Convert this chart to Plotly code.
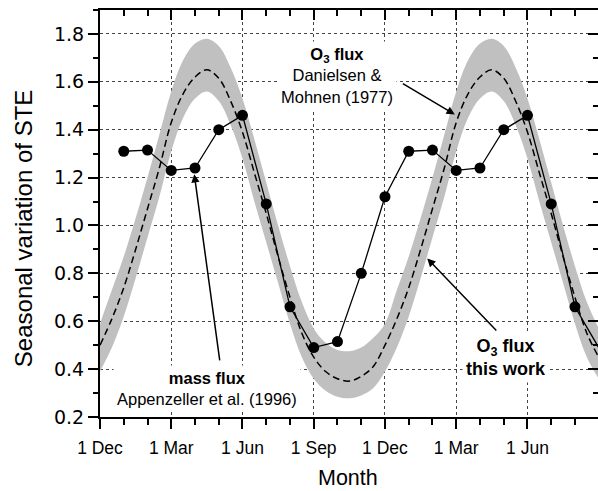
import plotly.graph_objects as go

# ---- data ----
# months since 1 Dec (0 = 1 Dec, 3 = 1 Mar, ...), half-month samples of the O3-flux fit
fit_months = [i * 0.5 for i in range(43)]
fit_mean = [0.50, 0.61, 0.74, 0.90, 1.07, 1.24, 1.43, 1.55, 1.62, 1.65, 1.615, 1.52,
            1.39, 1.22, 1.05, 0.87, 0.70, 0.55, 0.45, 0.39, 0.36, 0.35, 0.37, 0.41,
            0.50, 0.61, 0.74, 0.90, 1.07, 1.24, 1.43, 1.55, 1.62, 1.65, 1.615, 1.52,
            1.39, 1.22, 1.05, 0.87, 0.70, 0.55, 0.45]
fit_upper = [0.59, 0.73, 0.87, 1.03, 1.20, 1.38, 1.56, 1.69, 1.76, 1.78, 1.75, 1.66,
             1.53, 1.36, 1.18, 1.00, 0.83, 0.68, 0.57, 0.51, 0.48, 0.475, 0.49, 0.53,
             0.59, 0.73, 0.87, 1.03, 1.20, 1.38, 1.56, 1.69, 1.76, 1.78, 1.75, 1.66,
             1.53, 1.36, 1.18, 1.00, 0.83, 0.68, 0.57]
fit_lower = [0.39, 0.49, 0.62, 0.78, 0.95, 1.12, 1.31, 1.45, 1.53, 1.56, 1.52, 1.42,
             1.28, 1.10, 0.93, 0.76, 0.59, 0.45, 0.36, 0.31, 0.285, 0.278, 0.29, 0.32,
             0.39, 0.49, 0.62, 0.78, 0.95, 1.12, 1.31, 1.45, 1.53, 1.56, 1.52, 1.42,
             1.28, 1.10, 0.93, 0.76, 0.59, 0.45, 0.36]

mass_months = [1, 2, 3, 4, 5, 6, 7, 8, 9, 10, 11, 12,
               13, 14, 15, 16, 17, 18, 19, 20, 21]
mass_flux = [1.31, 1.315, 1.23, 1.24, 1.40, 1.46, 1.09, 0.66, 0.49, 0.515, 0.80, 1.12,
             1.31, 1.315, 1.23, 1.24, 1.40, 1.46, 1.09, 0.66, 0.49]

tick_months = [0, 3, 6, 9, 12, 15, 18]
tick_labels = ["1 Dec", "1 Mar", "1 Jun", "1 Sep", "1 Dec", "1 Mar", "1 Jun"]

ARIAL = "Arial, Liberation Sans, sans-serif"

fig = go.Figure()
fig.add_trace(go.Scatter(x=fit_months, y=fit_lower, mode="lines",
                         line=dict(width=0, shape="spline", color="#c0c0c0"),
                         hoverinfo="skip", showlegend=False))
fig.add_trace(go.Scatter(x=fit_months, y=fit_upper, mode="lines", fill="tonexty",
                         fillcolor="#c0c0c0",
                         line=dict(width=0, shape="spline", color="#c0c0c0"),
                         hoverinfo="skip", showlegend=False))
fig.add_trace(go.Scatter(x=fit_months, y=fit_mean, mode="lines",
                         line=dict(width=1.5, shape="spline", color="black", dash="7px,4px"),
                         showlegend=False))
fig.add_trace(go.Scatter(x=mass_months, y=mass_flux, mode="lines+markers",
                         line=dict(width=1.3, color="black"),
                         marker=dict(size=11, color="black"),
                         cliponaxis=False, showlegend=False))

xr = [0, 20.97]
yr = [0.2, 1.9]

fig.update_layout(
    width=598, height=491,
    margin=dict(l=100, r=0, t=10, b=74),
    plot_bgcolor="white", paper_bgcolor="white",
    font=dict(family=ARIAL, color="black"),
    xaxis=dict(range=xr, tickvals=tick_months, ticktext=tick_labels,
               ticks="outside", ticklen=10, tickwidth=2, tickcolor="black",
               minor=dict(dtick=1, tick0=0, ticks="outside", ticklen=6, tickwidth=1.5,
                          tickcolor="black", showgrid=False),
               showline=True, linewidth=2, linecolor="black",
               showgrid=True, gridcolor="#444", griddash="dot", gridwidth=1,
               zeroline=False, ticklabelstandoff=4,
               tickfont=dict(family=ARIAL, size=17.5)),
    yaxis=dict(range=yr, tick0=0.2, dtick=0.2, tickformat=".1f",
               ticks="outside", ticklen=10, tickwidth=2, tickcolor="black",
               minor=dict(dtick=0.1, tick0=0.2, ticks="outside", ticklen=5, tickwidth=1.5,
                          tickcolor="black", showgrid=False),
               showline=True, linewidth=2, linecolor="black",
               showgrid=True, gridcolor="#444", griddash="dot", gridwidth=1,
               zeroline=False,
               tickfont=dict(family="DejaVu Sans", size=19)),
    xaxis2=dict(range=xr, overlaying="x", side="top", tickvals=tick_months,
                showticklabels=False, ticks="inside", ticklen=10, tickwidth=2,
                tickcolor="black",
                minor=dict(dtick=1, tick0=0, ticks="inside", ticklen=6, tickwidth=1.5,
                           tickcolor="black", showgrid=False),
                showline=True, linewidth=2, linecolor="black", showgrid=False,
                zeroline=False),
    yaxis2=dict(range=yr, overlaying="y", side="right", tick0=0.2, dtick=0.2,
                showticklabels=False, ticks="inside", ticklen=10, tickwidth=2,
                tickcolor="black",
                minor=dict(dtick=0.1, tick0=0.2, ticks="inside", ticklen=5, tickwidth=1.5,
                           tickcolor="black", showgrid=False),
                showline=False, showgrid=False, zeroline=False),
)

# invisible helper so the mirrored top/right axes are drawn
fig.add_trace(go.Scatter(x=[None], y=[None], xaxis="x2", yaxis="y2",
                         showlegend=False, hoverinfo="skip"))

ann = []
# axis titles
ann.append(dict(text="Seasonal variation of STE", xref="paper", yref="paper",
                x=-0.1546, y=0.464, textangle=-90, showarrow=False,
                xanchor="center", yanchor="middle", font=dict(family=ARIAL, size=24)))
ann.append(dict(text="Month", xref="paper", yref="paper", x=0.498, y=-0.150,
                showarrow=False, xanchor="center", yanchor="middle",
                font=dict(family=ARIAL, size=21.5)))
# text blocks
ann.append(dict(text="<b>O<sub>3</sub> flux</b><br>Danielsen &amp;<br>Mohnen (1977)",
                x=10.0, y=1.625, xref="x", yref="y", showarrow=False,
                bgcolor="white", borderpad=3, font=dict(family=ARIAL, size=16.5)))
ann.append(dict(text="<b>mass flux</b><br>Appenzeller et al. (1996)",
                x=4.5, y=0.319, xref="x", yref="y", showarrow=False,
                bgcolor="white", borderpad=3, font=dict(family=ARIAL, size=16.5)))
ann.append(dict(text="<b>O<sub>3</sub> flux<br>this work</b>",
                x=17.1, y=0.447, xref="x", yref="y", showarrow=False,
                bgcolor="white", borderpad=3, font=dict(family=ARIAL, size=18)))
# arrows
for tip, tail in [((14.94, 1.464), (12.69, 1.596)),
                  ((3.97, 1.214), (5.05, 0.43)),
                  ((13.78, 0.862), (16.75, 0.555))]:
    ann.append(dict(text="", x=tip[0], y=tip[1], ax=tail[0], ay=tail[1],
                    xref="x", yref="y", axref="x", ayref="y", showarrow=True,
                    arrowhead=2, arrowsize=1.1, arrowwidth=1.5, arrowcolor="black",
                    standoff=0, startstandoff=0))
fig.update_layout(annotations=ann)

fig.write_html("out.html")
